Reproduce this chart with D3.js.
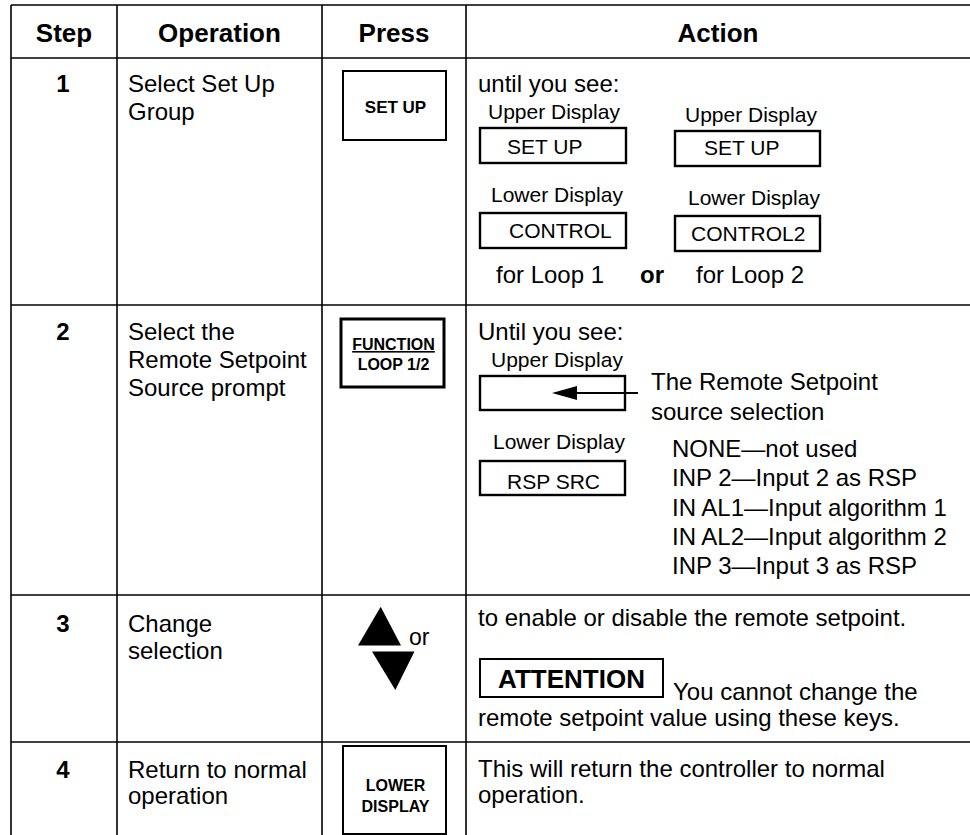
<!DOCTYPE html>
<html><head><meta charset="utf-8">
<script src="https://cdn.jsdelivr.net/npm/d3@7"></script>
<style>
body{margin:0;background:#fff}
svg{display:block}
text{font-family:"Liberation Sans",Arial,Helvetica,sans-serif;fill:#000}
</style>
</head><body>
<svg id="c" width="970" height="835"></svg>
<script>
// ---------- data ----------
const headers = ["Step", "Operation", "Press", "Action"];
const steps = ["1", "2", "3", "4"];
const operations = [
  ["Select Set Up", "Group"],
  ["Select the", "Remote Setpoint", "Source prompt"],
  ["Change", "selection"],
  ["Return to normal", "operation"]
];
const pressKeys = [["SET UP"], ["FUNCTION", "LOOP 1/2"], [], ["LOWER", "DISPLAY"]];
const pressOr = "or";
const step1Intro = "until you see:";
const step1Labels = ["Upper Display", "Lower Display", "Upper Display", "Lower Display"];
const step1Values = ["SET UP", "CONTROL", "SET UP", "CONTROL2"];
const loopNotes = ["for Loop 1", "or", "for Loop 2"];
const step2Intro = "Until you see:";
const step2Labels = ["Upper Display", "Lower Display"];
const step2Values = ["", "RSP SRC"];
const step2Callout = ["The Remote Setpoint", "source selection"];
const rspOptions = ["NONE\u2014not used", "INP 2\u2014Input 2 as RSP", "IN AL1\u2014Input algorithm 1", "IN AL2\u2014Input algorithm 2", "INP 3\u2014Input 3 as RSP"];
const step3Text = ["to enable or disable the remote setpoint.", "You cannot change the", "remote setpoint value using these keys."];
const attention = "ATTENTION";
const step4Text = ["This will return the controller to normal", "operation."];

// ---------- layout ----------
const W = 970, H = 835;
const svg = d3.select("#c");
const colX = d3.scaleOrdinal().domain(headers).range([11, 117, 322, 466]);
const colEnd = d3.scaleOrdinal().domain(headers).range([117, 322, 466, 970]);
const colMid = h => (colX(h) + colEnd(h)) / 2;
const rowTop = d3.scaleOrdinal().domain(steps).range([58, 305, 595, 742]);
const firstBase = d3.scaleOrdinal().domain(steps).range([92, 340, 632, 778]);
const lineGap = d3.scaleOrdinal().domain(steps).range([27.5, 28, 26.5, 25.5]);

const ink = "#000";
// grid lines
const hLines = [5, 58].concat(steps.slice(1).map(s => rowTop(s)));
svg.append("g").selectAll("line").data(hLines).join("line")
  .attr("x1", colX("Step")).attr("x2", W).attr("y1", d => d).attr("y2", d => d)
  .attr("stroke", ink).attr("stroke-width", 1.6);
svg.append("g").selectAll("line").data(headers).join("line")
  .attr("x1", d => colX(d)).attr("x2", d => colX(d)).attr("y1", 5).attr("y2", H)
  .attr("stroke", ink).attr("stroke-width", 1.6);

// headers
svg.append("g").selectAll("text").data(headers).join("text")
  .attr("x", d => colMid(d)).attr("y", 42).attr("text-anchor", "middle")
  .attr("font-size", 26).attr("font-weight", "bold").text(d => d);

// step numbers
svg.append("g").selectAll("text").data(steps).join("text")
  .attr("x", colMid("Step") - 1).attr("y", d => firstBase(d)).attr("text-anchor", "middle")
  .attr("font-size", 24).attr("font-weight", "bold").text(d => d);

// operations
const opG = svg.append("g");
steps.forEach((s, i) => {
  opG.append("g").selectAll("text").data(operations[i]).join("text")
    .attr("x", colX("Operation") + 11).attr("y", (d, j) => firstBase(s) + j * lineGap(s))
    .attr("font-size", 24).text(d => d);
});

// press keys
const keyBoxes = [
  {step: "1", x: 343, y: 71, w: 103, h: 69, sw: 2, base: [113], fs: 17},
  {step: "2", x: 341, y: 319, w: 103, h: 68, sw: 3, base: [350, 370], fs: 16},
  {step: "4", x: 343, y: 746, w: 103, h: 88, sw: 2, base: [791, 812], fs: 16}
];
const pk = svg.append("g");
keyBoxes.forEach(b => {
  const idx = steps.indexOf(b.step);
  pk.append("rect").attr("x", b.x).attr("y", b.y).attr("width", b.w).attr("height", b.h)
    .attr("fill", "none").attr("stroke", ink).attr("stroke-width", b.sw);
  pk.append("g").selectAll("text").data(pressKeys[idx]).join("text")
    .attr("x", b.x + b.w / 2 + 1).attr("y", (d, j) => b.base[j]).attr("text-anchor", "middle")
    .attr("font-size", b.fs).attr("font-weight", "bold")
    .attr("text-decoration", (d, j) => (b.step === "2" && j === 0) ? "underline" : null)
    .text(d => d);
});
// arrows (step 3)
pk.append("path").attr("d", "M380.7,606.7 L401,645.5 L358,645.5 Z").attr("fill", ink);
pk.append("path").attr("d", "M372,651.5 L414.5,651.5 L395.3,690 Z").attr("fill", ink);
pk.append("text").attr("x", 409).attr("y", 645).attr("font-size", 23).text(pressOr);

// ---------- action column ----------
const ac = svg.append("g");
const ax = colX("Action") + 12;
// step 1
ac.append("text").attr("x", ax).attr("y", 92).attr("font-size", 24).text(step1Intro);
const s1 = [
  {lx: 488, lb: 119, bx: 480, by: 128, bw: 146, tx: 507, tb: 154},
  {lx: 491, lb: 202, bx: 480, by: 213, bw: 146, tx: 509, tb: 238},
  {lx: 685, lb: 122, bx: 675, by: 131, bw: 145, tx: 704, tb: 155},
  {lx: 688, lb: 205, bx: 675, by: 216, bw: 145, tx: 691, tb: 241}
];
s1.forEach((p, i) => {
  ac.append("text").attr("x", p.lx).attr("y", p.lb).attr("font-size", 21).text(step1Labels[i]);
  ac.append("rect").attr("x", p.bx).attr("y", p.by).attr("width", p.bw).attr("height", 35)
    .attr("fill", "none").attr("stroke", ink).attr("stroke-width", 2.4);
  ac.append("text").attr("x", p.tx).attr("y", p.tb).attr("font-size", 21).text(step1Values[i]);
});
ac.selectAll(".loop").data(loopNotes).join("text").attr("class", "loop")
  .attr("x", (d, i) => [496, 640, 696][i]).attr("y", 283).attr("font-size", 24)
  .attr("font-weight", (d, i) => i === 1 ? "bold" : null).text(d => d);

// step 2
ac.append("text").attr("x", ax).attr("y", 340).attr("font-size", 24).text(step2Intro);
const s2 = [
  {lx: 491, lb: 367, by: 376, tb: 404},
  {lx: 493, lb: 449, by: 461, tb: 489}
];
s2.forEach((p, i) => {
  ac.append("text").attr("x", p.lx).attr("y", p.lb).attr("font-size", 21).text(step2Labels[i]);
  ac.append("rect").attr("x", 480).attr("y", p.by).attr("width", 145).attr("height", 34)
    .attr("fill", "none").attr("stroke", ink).attr("stroke-width", 2.4);
  ac.append("text").attr("x", 507).attr("y", p.tb).attr("font-size", 21).text(step2Values[i]);
});
ac.append("line").attr("x1", 638).attr("x2", 574).attr("y1", 393).attr("y2", 393)
  .attr("stroke", ink).attr("stroke-width", 2);
ac.append("path").attr("d", "M552,393 L577,386 L577,400 Z").attr("fill", ink);
ac.selectAll(".call").data(step2Callout).join("text").attr("class", "call")
  .attr("x", 651).attr("y", (d, i) => 390 + i * 30).attr("font-size", 24).text(d => d);
ac.selectAll(".opt").data(rspOptions).join("text").attr("class", "opt")
  .attr("x", 672).attr("y", (d, i) => 457 + i * 29.3).attr("font-size", 24).text(d => d);

// step 3
ac.append("text").attr("x", ax).attr("y", 626).attr("font-size", 24).text(step3Text[0]);
ac.append("rect").attr("x", 480).attr("y", 659).attr("width", 183).attr("height", 38)
  .attr("fill", "none").attr("stroke", ink).attr("stroke-width", 2);
ac.append("text").attr("x", 571.5).attr("y", 688).attr("text-anchor", "middle")
  .attr("font-size", 26).attr("font-weight", "bold").text(attention);
ac.append("text").attr("x", 673).attr("y", 700).attr("font-size", 24).text(step3Text[1]);
ac.append("text").attr("x", ax).attr("y", 726).attr("font-size", 24).text(step3Text[2]);

// step 4
ac.selectAll(".s4").data(step4Text).join("text").attr("class", "s4")
  .attr("x", ax).attr("y", (d, i) => 777 + i * 26).attr("font-size", 24).text(d => d);
</script>
</body></html>
